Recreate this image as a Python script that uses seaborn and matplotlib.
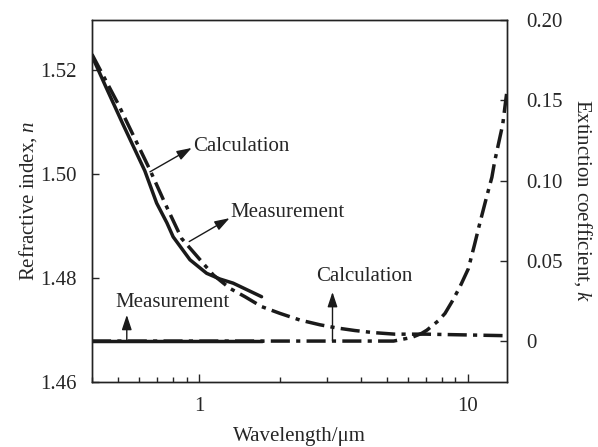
import numpy as np
import pandas as pd
import matplotlib
matplotlib.use("Agg")
import matplotlib.pyplot as plt
import seaborn as sns

# refractive index n, measurement (solid) and calculation (dash-dot)
wl_n_meas = [0.40, 0.45, 0.52, 0.629, 0.696, 0.76, 0.802, 0.926, 1.068, 1.197, 1.341, 1.71]
n_meas = [1.5227, 1.5168, 1.5097, 1.5006, 1.4944, 1.4906, 1.4879, 1.4835, 1.4809, 1.4798,
          1.4790, 1.4764]

wl_n_calc = [0.40, 0.50, 0.657, 0.747, 0.862, 1.01, 1.13, 1.304, 1.483, 1.71, 2.0, 2.38,
             2.82, 3.25, 3.8, 4.45, 5.35, 7.0, 14.0]
n_calc = [1.523, 1.5135, 1.5008, 1.4944, 1.4876, 1.4835, 1.4806, 1.478, 1.4764, 1.4745,
          1.4732, 1.4719, 1.4710, 1.4704, 1.4699, 1.4695, 1.4692, 1.4692, 1.4689]

# extinction coefficient k
wl_k_meas = [0.40, 1.71]
k_meas = [0.0, 0.0]

wl_k_calc = [0.40, 5.3, 6.2, 6.74, 7.05, 7.77, 8.23, 8.73, 9.35, 10.05, 10.6, 11.0, 11.75,
             12.3, 12.6, 13.5, 14.0]
k_calc = [0.0, 0.0, 0.0023, 0.0048, 0.0068, 0.0126, 0.0172, 0.0244, 0.0337, 0.045, 0.060,
          0.071, 0.0896, 0.102, 0.112, 0.135, 0.156]

sns.set_theme(style="ticks")
plt.rcParams["font.family"] = ["Liberation Serif", "DejaVu Serif"]
plt.rcParams["mathtext.fontset"] = "custom"
plt.rcParams["mathtext.it"] = "Liberation Serif:italic"
plt.rcParams["mathtext.rm"] = "Liberation Serif"
plt.rcParams["axes.edgecolor"] = "#222222"
plt.rcParams["axes.linewidth"] = 1.0

FS = 15
DASHDOT = (0, (5.5, 1.8, 1.2, 1.8))
LW = 2.5
INK = "#1a1a1a"

fig = plt.figure(figsize=(5.98, 4.47), dpi=100)
ax = fig.add_axes([0.1538, 0.1454, 0.6940, 0.8099])
ax2 = ax.twinx()

df_nm = pd.DataFrame({"wl": wl_n_meas, "n": n_meas})
df_nc = pd.DataFrame({"wl": wl_n_calc, "n": n_calc})
df_km = pd.DataFrame({"wl": wl_k_meas, "k": k_meas})
df_kc = pd.DataFrame({"wl": wl_k_calc, "k": k_calc})

sns.lineplot(data=df_nm, x="wl", y="n", ax=ax, color=INK, lw=LW, sort=False)
sns.lineplot(data=df_nc, x="wl", y="n", ax=ax, color=INK, lw=LW, linestyle=DASHDOT, sort=False)
sns.lineplot(data=df_km, x="wl", y="k", ax=ax2, color=INK, lw=LW, sort=False)
sns.lineplot(data=df_kc, x="wl", y="k", ax=ax2, color=INK, lw=LW, linestyle=DASHDOT, sort=False)

ax.set_xscale("log")
ax.set_xlim(0.4, 14)
ax.set_ylim(1.46, 1.5296)
ax2.set_ylim(-0.0255, 0.2)

ax.set_yticks([1.46, 1.48, 1.50, 1.52])
ax.set_yticklabels(["1.46", "1.48", "1.50", "1.52"])
ax2.set_yticks([0, 0.05, 0.10, 0.15, 0.20])
ax2.set_yticklabels(["0", "0.05", "0.10", "0.15", "0.20"])
ax.set_xticks([1, 10])
ax.set_xticklabels(["1", "10"])

ax.tick_params(axis="y", direction="in", length=5, width=1, labelsize=FS, pad=11, right=False)
ax.tick_params(axis="x", which="major", direction="in", length=6, width=1, labelsize=FS, pad=11, top=False)
ax.tick_params(axis="x", which="minor", direction="in", length=3.5, width=1, top=False)
ax2.tick_params(axis="y", direction="in", length=5, width=1, labelsize=FS, pad=14)

ax.set_xlabel("Wavelength/\u03bcm", fontsize=FS, labelpad=8)
ax.set_ylabel("Refractive index, $n$", fontsize=FS, labelpad=1)
ax2.set_ylabel("Extinction coefficient, $k$", fontsize=FS, rotation=270, labelpad=22)

for s in ax.spines.values():
    s.set_visible(True)

arrow = dict(arrowstyle="-|>,head_length=0.6,head_width=0.2", color=INK, lw=1.0,
             mutation_scale=15, shrinkA=0, shrinkB=0)

# upper labels on the n curves
ax.annotate("", xy=(0.94, 1.5050), xytext=(0.657, 1.5004), arrowprops=arrow)
ax.text(0.955, 1.5052, "Calculation", fontsize=FS, va="center", ha="left")
ax.annotate("", xy=(1.30, 1.4915), xytext=(0.92, 1.4870), arrowprops=arrow)
ax.text(1.31, 1.4925, "Measurement", fontsize=FS, va="center", ha="left")

# lower labels on the k curves
ax.annotate("", xy=(0.539, 1.4729), xytext=(0.539, 1.4679), arrowprops=arrow)
ax.text(0.797, 1.4752, "Measurement", fontsize=FS, va="center", ha="center")
ax.annotate("", xy=(3.14, 1.4773), xytext=(3.14, 1.4679), arrowprops=arrow)
ax.text(4.13, 1.4802, "Calculation", fontsize=FS, va="center", ha="center")

fig.savefig("out.png", dpi=100)
